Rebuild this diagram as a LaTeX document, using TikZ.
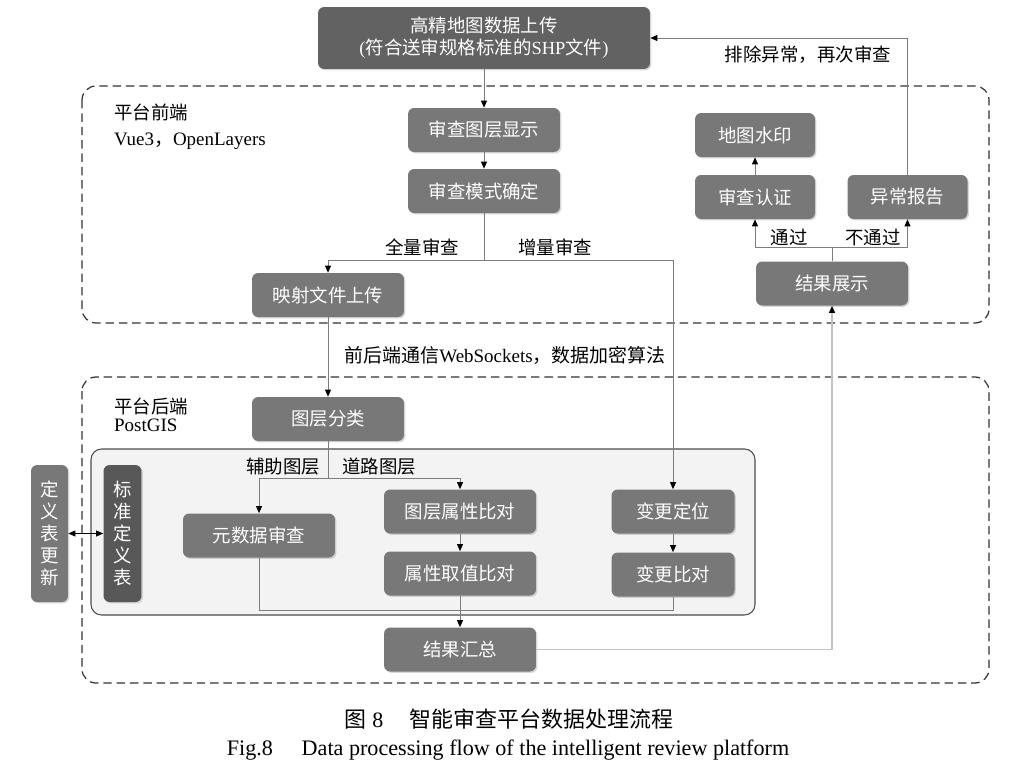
\documentclass[tikz,border=0pt]{standalone}
\usepackage{fontspec}
\setmainfont{Liberation Serif}
\newfontfamily\cjk{Noto Sans CJK SC}
\usepackage{xcolor}
\definecolor{boxgray}{RGB}{120,120,120}
\definecolor{boxdark}{RGB}{98,98,98}
\definecolor{tabdark}{RGB}{88,88,88}
\definecolor{linegray}{RGB}{125,125,125}
\definecolor{lightline}{RGB}{195,195,195}
\definecolor{innerfill}{RGB}{243,243,243}
\usetikzlibrary{arrows.meta,shadows}

\begin{document}
\begin{tikzpicture}[x=0.02cm, y=-0.02cm,
  box/.style={fill=boxgray, rounded corners=3.5pt, text=white, inner sep=0pt, align=center,
    font=\cjk\fontsize{10.5}{12}\selectfont, minimum width=3.04cm, minimum height=0.88cm,
    drop shadow={shadow xshift=0.8pt, shadow yshift=-0.8pt, opacity=0.3}},
  smallbox/.style={box, minimum width=2.4cm},
  vbox/.style={box, minimum width=0.76cm, minimum height=2.74cm, font=\cjk\fontsize{10.5}{12.6}\selectfont},
  group/.style={draw=black!80, line width=0.7pt, dash pattern=on 4.8pt off 2.8pt, rounded corners=8pt},
  lbl/.style={font=\cjk\fontsize{10.5}{12}\selectfont, inner sep=1pt},
  link/.style={draw=linegray, line width=0.5pt},
  arr/.style={link, -{Triangle[length=4pt, width=3.4pt, color=black]}}]

  \fill[white] (0,0) rectangle (1030,778);
  \useasboundingbox (0,0) rectangle (1030,778);

  % Groups
  \draw[group] (82,86) rectangle (989,323);
  \draw[group] (82,377) rectangle (989,683);
  \draw[draw=black!70, fill=innerfill, line width=0.6pt, rounded corners=6pt] (91,449) rectangle (755,615);

  \node[lbl, anchor=west] (fronttitle) at (112,112) {平台前端};
  \node[anchor=west, inner sep=1pt, font=\fontsize{10.8}{12}\selectfont] (frontlib) at (112,141) {Vue3{\cjk ，}OpenLayers};
  \node[lbl, anchor=west] (backtitle) at (112,406) {平台后端};
  \node[anchor=west, inner sep=1pt, font=\fontsize{10.8}{12}\selectfont] (backlib) at (112,425) {PostGIS};

  % Upload
  \node[box, fill=boxdark, minimum width=6.64cm, minimum height=1.24cm, font=\fontsize{10.5}{12.5}\selectfont] (upload) at (484,38)
    {{\cjk 高精地图数据上传}\\({\cjk 符合送审规格标准的}SHP{\cjk 文件})};

  % Frontend
  \node[box] (layershow) at (484,130) {审查图层显示};
  \node[box] (mode) at (484,191) {审查模式确定};
  \node[box] (mapup) at (328,295) {映射文件上传};
  \node[smallbox] (watermark) at (755,135) {地图水印};
  \node[smallbox] (cert) at (755,197) {审查认证};
  \node[smallbox] (abnormal) at (907.5,197) {异常报告};
  \node[box] (show) at (832,283.5) {结果展示};

  % Backend
  \node[box] (classify) at (328,419) {图层分类};
  \node[box] (meta) at (259,535.5) {元数据审查};
  \node[box] (attr) at (460,511.5) {图层属性比对};
  \node[box] (value) at (460,573.5) {属性取值比对};
  \node[box, minimum width=2.46cm] (locate) at (673,511.5) {变更定位};
  \node[box, minimum width=2.46cm] (change) at (673,574.5) {变更比对};
  \node[box] (summary) at (460,649.5) {结果汇总};
  \node[vbox, fill=tabdark] (stdtab) at (122.5,533.5) {标\\准\\定\\义\\表};
  \node[vbox, minimum width=0.74cm] (tabupd) at (49.5,533.5) {定\\义\\表\\更\\新};

  % Connectors
  \coordinate (modesplit) at (484,260);
  \coordinate (showsplit) at (832,247);
  \coordinate (layersplit) at (328,478);
  \coordinate (merge) at (460,610);

  \draw[arr] (upload.south) -- (layershow.north);
  \draw[arr] (layershow.south) -- (mode.north);
  \draw[link] (mode.south) -- (modesplit);
  \draw[arr] (modesplit) -| (mapup.north);
  \draw[arr] (modesplit) -| (locate.north);
  \draw[arr] (mapup.south) -- (classify.north);
  \draw[link] (classify.south) -- (layersplit);
  \draw[arr] (layersplit) -| (meta.north);
  \draw[arr] (layersplit) -| (attr.north);
  \draw[arr] (attr.south) -- (value.north);
  \draw[arr] (locate.south) -- (change.north);
  \draw[link] (meta.south) |- (merge) -| (change.south);
  \draw[arr] (value.south) -- (summary.north);
  \draw[arr, draw=lightline, line width=0.7pt] (summary.east) -| (show.south);
  \draw[link] (show.north) -- (showsplit);
  \draw[arr] (showsplit) -| (cert.south);
  \draw[arr] (showsplit) -| (abnormal.south);
  \draw[arr] (cert.north) -- (watermark.south);
  \draw[arr] (abnormal.north) |- (upload.east);
  \draw[black, line width=0.5pt, {Triangle[length=4pt, width=3.4pt]}-{Triangle[length=4pt, width=3.4pt]}] (tabupd.east) -- (stdtab.west);

  % Labels
  \node[lbl] (retry) at (808,55) {排除异常，再次审查};
  \node[lbl] (fullrev) at (422,247) {全量审查};
  \node[lbl] (incrrev) at (555,247) {增量审查};
  \node[lbl] (pass) at (789,237) {通过};
  \node[lbl] (fail) at (873,237) {不通过};
  \node[lbl] (auxlayer) at (283,467) {辅助图层};
  \node[lbl] (roadlayer) at (379,467) {道路图层};
  \node[inner sep=1pt, font=\fontsize{10.8}{12}\selectfont] (comm) at (505,355) {{\cjk 前后端通信}WebSockets{\cjk ，数据加密算法}};

  % Caption
  \node[inner sep=0pt, font=\fontsize{12.5}{14}\selectfont] (capcn) at (509,719) {{\cjk 图} 8\hspace{1.2em}{\cjk 智能审查平台数据处理流程}};
  \node[inner sep=0pt, font=\fontsize{12.6}{14}\selectfont] (capen) at (508,750) {Fig.8\hspace{1.3em}Data processing flow of the intelligent review platform};
\end{tikzpicture}
\end{document}
